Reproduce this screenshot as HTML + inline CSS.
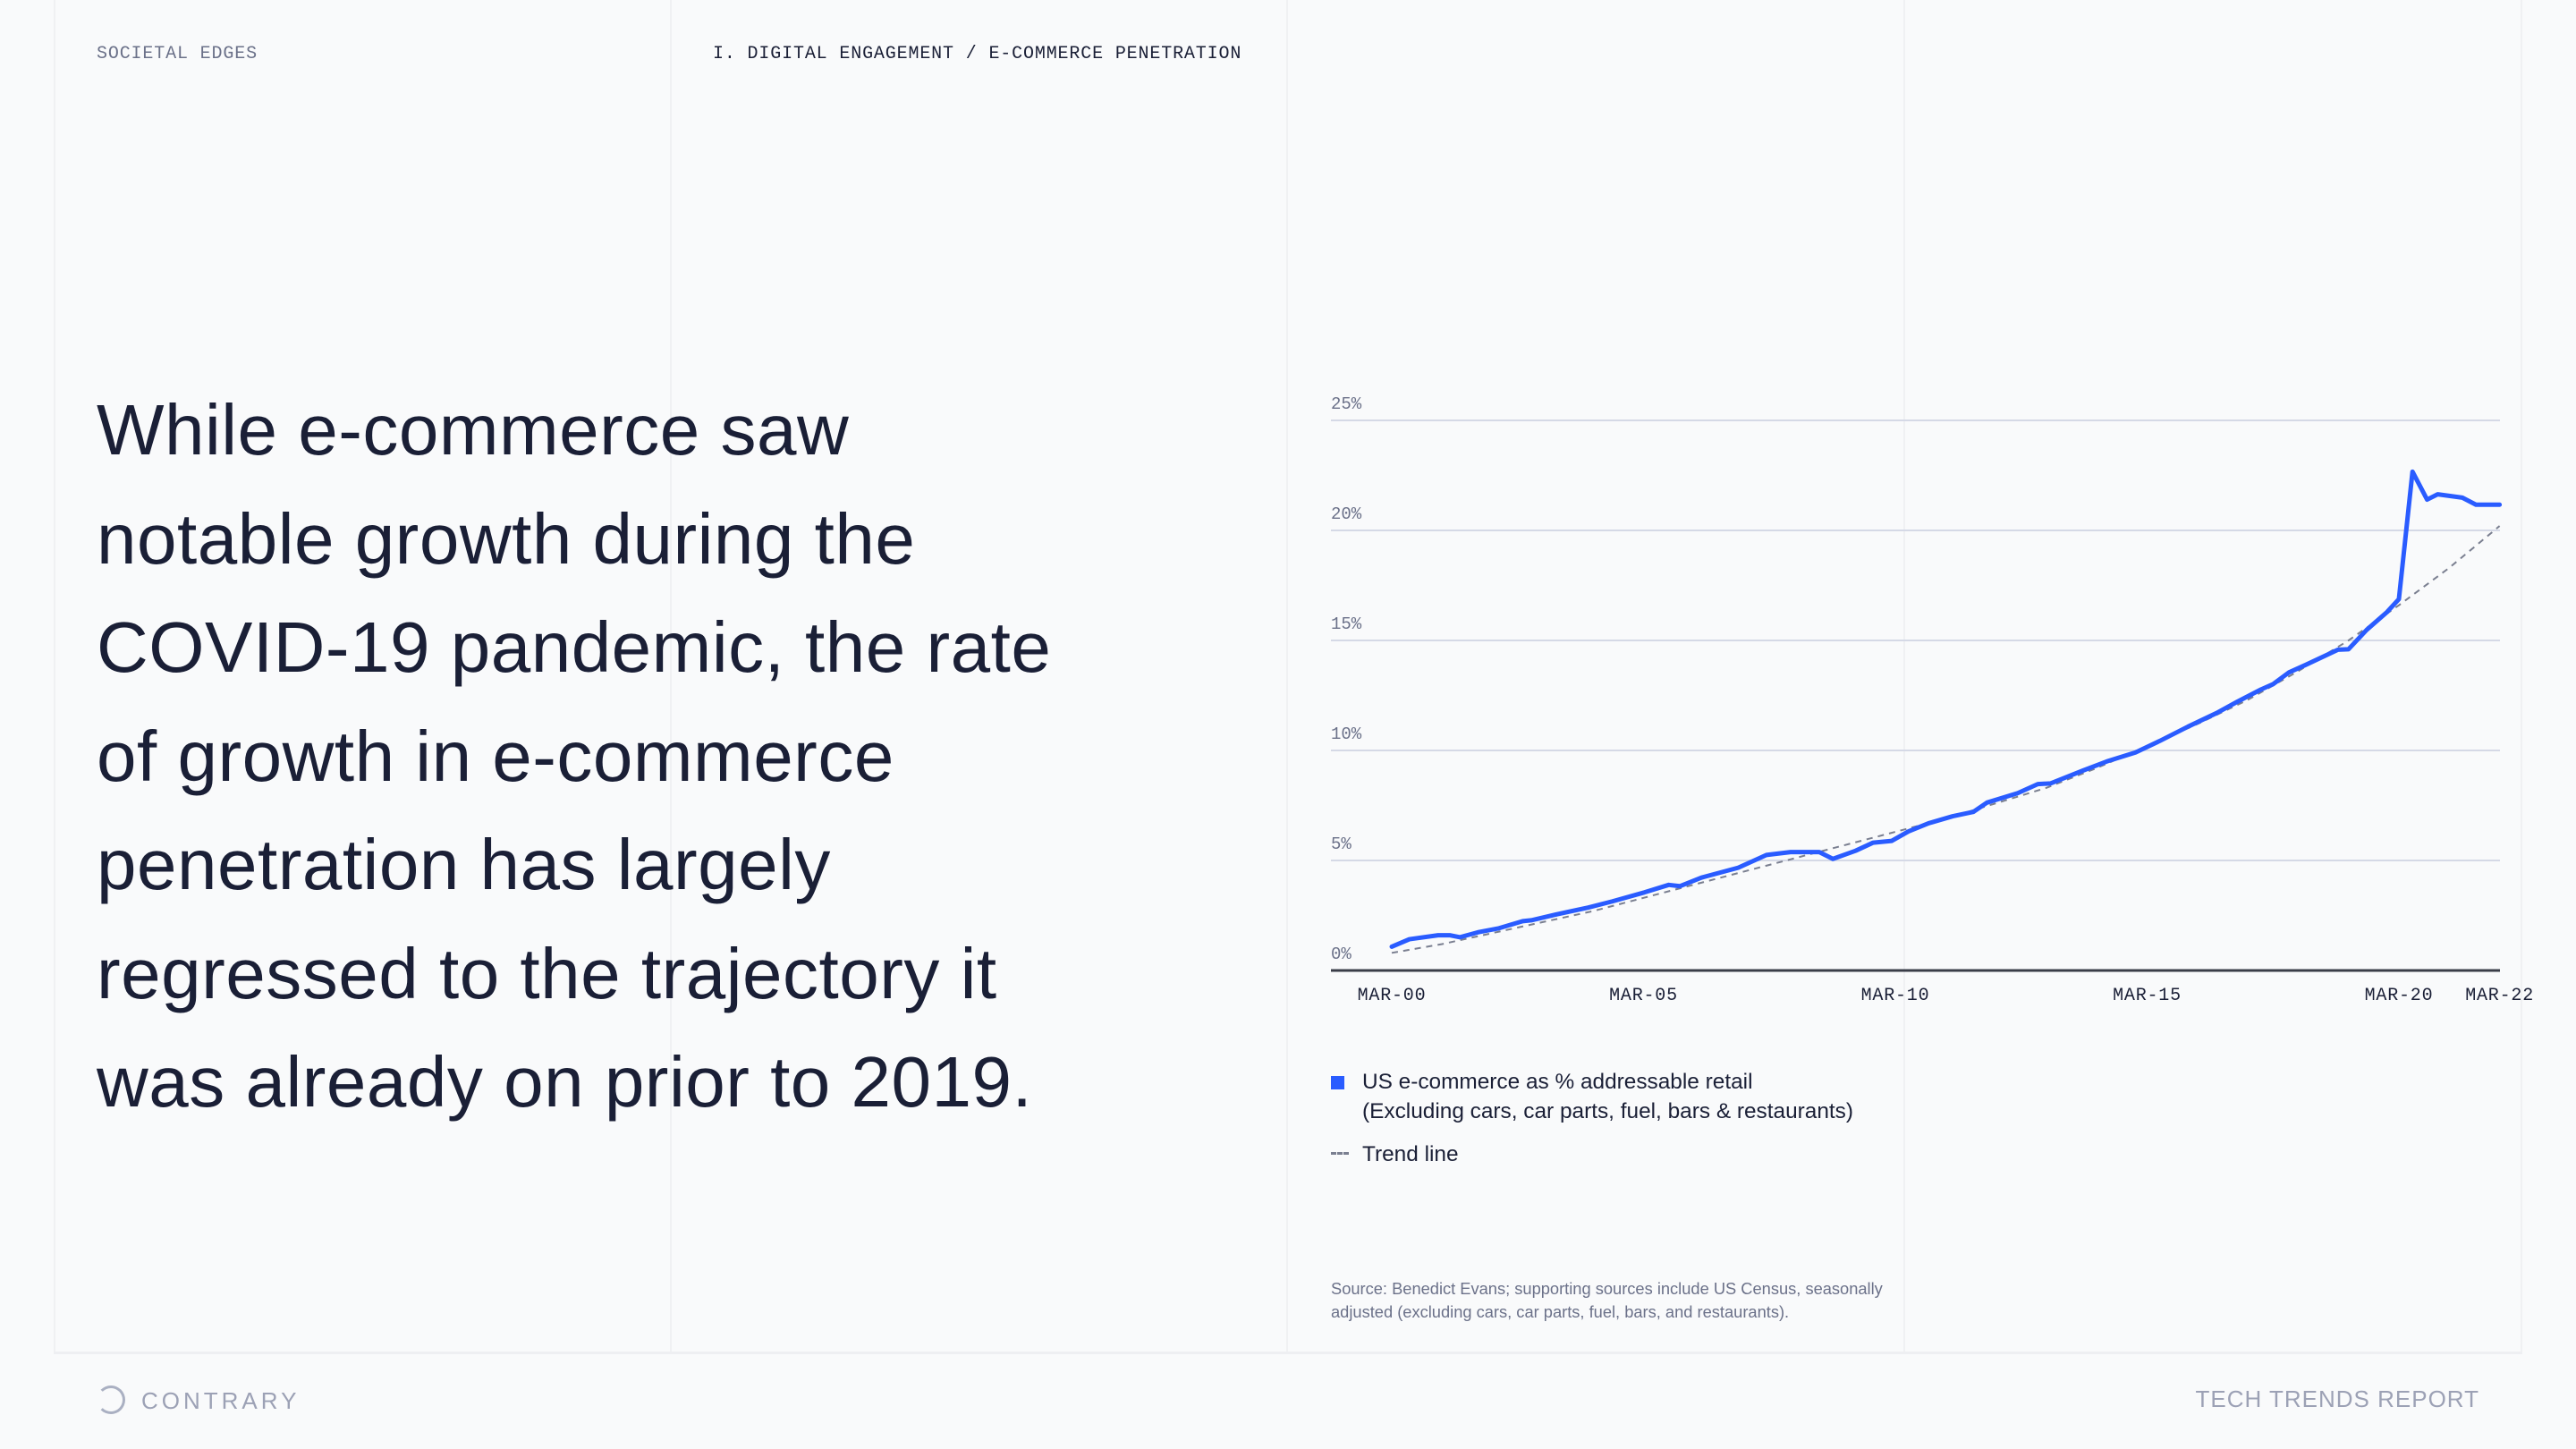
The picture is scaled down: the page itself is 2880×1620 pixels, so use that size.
<!DOCTYPE html>
<html><head><meta charset="utf-8">
<style>
html,body{margin:0;padding:0;background:#f9fafb;}
body{width:2880px;height:1620px;position:relative;overflow:hidden;font-family:"Liberation Sans",sans-serif;}
.v{position:absolute;top:0;height:1512px;width:2px;background:#f0f1f3;}
.mono{font-family:"Liberation Mono",monospace;font-size:20px;position:absolute;top:49px;letter-spacing:0.85px;}
#headline{position:absolute;left:108px;top:420px;font-size:80px;line-height:121.5px;color:#1a1f36;letter-spacing:0.5px;}
.foot{position:absolute;top:1549px;font-size:26px;color:#9ca1b5;letter-spacing:4px;}
</style></head><body>
<div class="v" style="left:60px"></div>
<div class="v" style="left:749px"></div>
<div class="v" style="left:1438px"></div>
<div class="v" style="left:2128px"></div>
<div class="v" style="left:2818px"></div>
<div style="position:absolute;left:60px;top:1511px;width:2760px;height:3px;background:#eeeff2"></div>
<div class="mono" style="left:108px;color:#6b7189">SOCIETAL EDGES</div>
<div class="mono" style="left:797px;color:#1a1f36">I. DIGITAL ENGAGEMENT / E-COMMERCE PENETRATION</div>
<div id="headline">While e-commerce saw<br>notable growth during the<br>COVID-19 pandemic, the rate<br>of growth in e-commerce<br>penetration has largely<br>regressed to the trajectory it<br>was already on prior to 2019.</div>

<svg id="chart" width="2880" height="1620" style="position:absolute;left:0;top:0"></svg>

<div style="position:absolute;left:1488px;top:1203px;width:15px;height:15px;background:#2a5cff"></div>
<div style="position:absolute;left:1523px;top:1193px;font-size:24.4px;line-height:33px;color:#1a1f36">US e-commerce as % addressable retail<br>(Excluding cars, car parts, fuel, bars &amp; restaurants)</div>
<div style="position:absolute;left:1488px;top:1288px;width:20px;border-top:3px dashed #7a7f90"></div>
<div style="position:absolute;left:1523px;top:1274px;font-size:24.4px;line-height:33px;color:#1a1f36">Trend line</div>
<div style="position:absolute;left:1488px;top:1428px;font-size:18.3px;line-height:26px;color:#6b7189">Source: Benedict Evans; supporting sources include US Census, seasonally<br>adjusted (excluding cars, car parts, fuel, bars, and restaurants).</div>

<div class="foot" style="left:108px"><span style="display:inline-block;width:26px;height:26px;border:3px solid #aab0c2;border-left-color:transparent;border-radius:50%;vertical-align:-6px;margin-right:18px"></span>CONTRARY</div>
<div class="foot" style="right:108px;letter-spacing:1px">TECH TRENDS REPORT</div>

<script>
const yTicks=[0,5,10,15,20,25];
const xTickYears=[0,5,10,15,20,22];
const xTickLabels=["MAR-00","MAR-05","MAR-10","MAR-15","MAR-20","MAR-22"];
const seriesYears=[0,0.35,0.92,1.16,1.35,1.72,2.13,2.6,2.77,3.25,3.9,4.38,5.02,5.5,5.72,6.15,6.88,7.44,7.92,8.49,8.76,9.21,9.56,9.93,10.26,10.66,11.14,11.55,11.82,12.43,12.83,13.08,13.72,14.2,14.77,15.25,15.81,16.38,16.78,17.26,17.5,17.82,18.15,18.79,19.0,19.36,19.76,20.0,20.27,20.56,20.77,21.26,21.53,22.0];
const seriesValues=[1.08,1.42,1.6,1.6,1.51,1.74,1.92,2.24,2.28,2.54,2.86,3.14,3.55,3.89,3.83,4.22,4.67,5.25,5.38,5.38,5.07,5.44,5.81,5.89,6.32,6.69,7.01,7.21,7.63,8.06,8.47,8.5,9.08,9.5,9.91,10.43,11.08,11.7,12.2,12.77,13.01,13.55,13.89,14.58,14.6,15.48,16.28,16.88,22.67,21.4,21.64,21.49,21.17,21.17];
const trendYears=[0,1,2,3,4,5,6,7,8,9,10,11,12,13,14,15,16,17,18,19,20,21,22];
const trendValues=[0.8,1.2,1.7,2.2,2.7,3.3,3.9,4.5,5.1,5.7,6.3,6.9,7.6,8.3,9.2,10.2,11.2,12.3,13.6,15.0,16.6,18.3,20.2];

const svg=document.getElementById('chart');
const NS='http://www.w3.org/2000/svg';
const X0=1488,X1=2795,Y0=1085;
const x=yr=>1556+yr*56.3;
const y=v=>Y0-v*24.6;
function mk(tag,attrs){const e=document.createElementNS(NS,tag);for(const k in attrs)e.setAttribute(k,attrs[k]);svg.appendChild(e);return e;}
yTicks.forEach(t=>{
  if(t>0){const g=mk('line',{x1:X0,x2:X1,y1:y(t),y2:y(t),stroke:'#d5d9e6','stroke-width':2});
  
  }
  const l=mk('text',{x:X0,y:y(t)-13,'font-family':'Liberation Mono, monospace','font-size':19,fill:'#6b7189'});
  l.textContent=t+'%';
  
  
});
const ax=mk('line',{x1:X0,x2:X1,y1:Y0,y2:Y0,stroke:'#3a3d48','stroke-width':3});


xTickYears.forEach((yr,i)=>{
  const l=mk('text',{x:x(yr),y:1118,'text-anchor':'middle','font-family':'Liberation Mono, monospace','font-size':20,fill:'#1a1f36','letter-spacing':0.8});
  l.textContent=xTickLabels[i];
  
  
});
const tp=mk('path',{d:trendYears.map((t,i)=>(i?'L':'M')+x(t)+','+y(trendValues[i])).join(''),fill:'none',stroke:'#7a7f90','stroke-width':2,'stroke-dasharray':'7,6'});


const sp=mk('path',{d:seriesYears.map((t,i)=>(i?'L':'M')+x(t)+','+y(seriesValues[i])).join(''),fill:'none',stroke:'#2a5cff','stroke-width':5,'stroke-linejoin':'round','stroke-linecap':'round'});


</script>
</body></html>
